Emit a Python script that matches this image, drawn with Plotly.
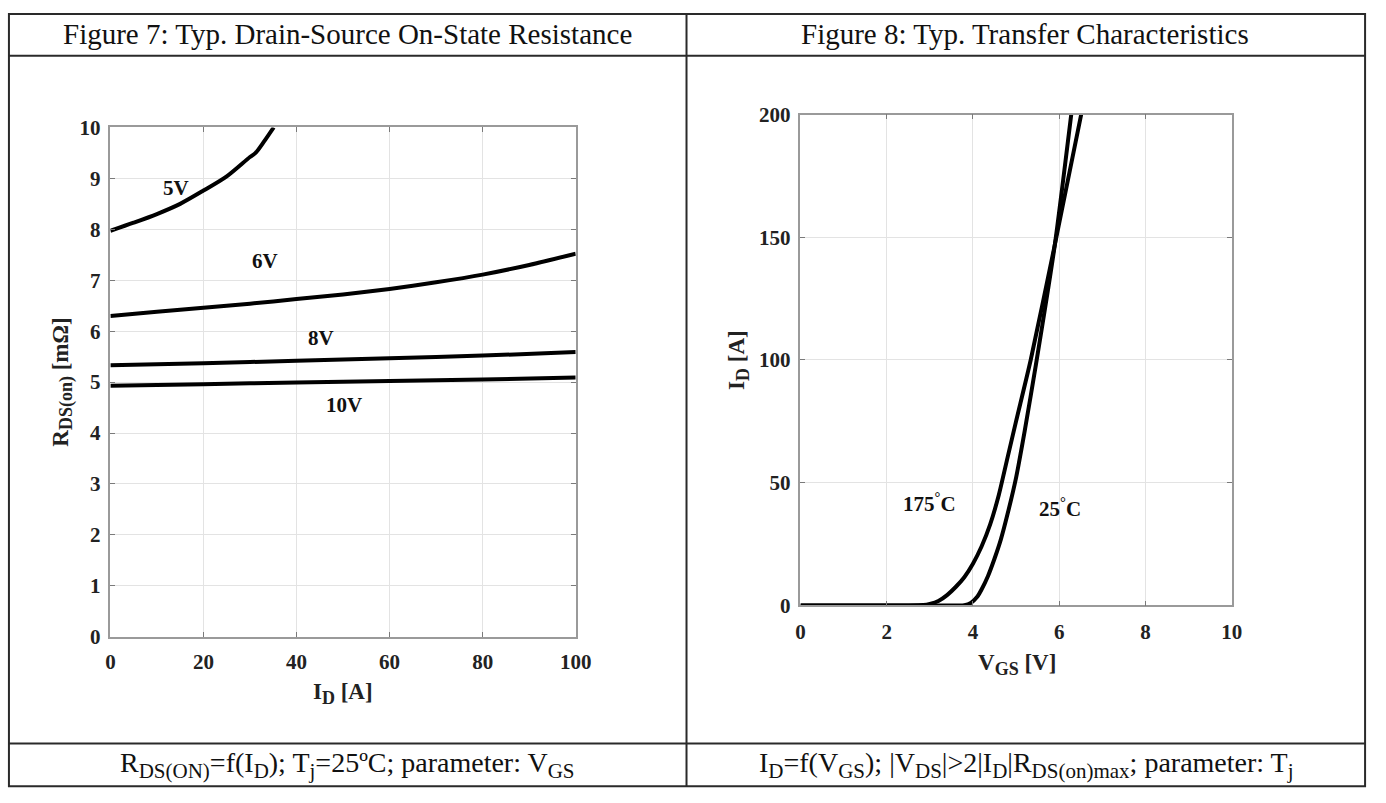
import plotly.graph_objects as go

# ---------------- data ----------------
# Figure 7: R_DS(on) vs I_D for several gate voltages
id_5v = [0, 5, 10, 15, 20, 25, 30, 31.2, 33, 35.1]
r_5v = [7.97, 8.13, 8.30, 8.50, 8.76, 9.04, 9.42, 9.50, 9.72, 10.0]

id_6v = [0, 10, 20, 30, 40, 50, 60, 70, 80, 90, 100]
r_6v = [6.30, 6.38, 6.46, 6.54, 6.63, 6.72, 6.83, 6.96, 7.11, 7.30, 7.52]

id_8v = [0, 20, 40, 60, 80, 100]
r_8v = [5.33, 5.37, 5.42, 5.47, 5.52, 5.59]

id_10v = [0, 20, 40, 60, 80, 100]
r_10v = [4.93, 4.96, 4.99, 5.02, 5.05, 5.09]

vgs_labels = ["5V", "6V", "8V", "10V"]
vgs_label_x = [14.0, 33.3, 45.3, 50.2]
vgs_label_y = [8.81, 7.37, 5.87, 4.55]

# Figure 8: I_D vs V_GS at two junction temperatures
vgs_25 = [0, 3.0, 3.8, 3.95, 4.1, 4.2, 4.35, 4.5, 4.65, 4.8, 5.0, 5.2, 5.46, 5.9, 6.28]
id_25 = [0, 0, 0.1, 1.0, 3.5, 6.5, 12, 19, 27, 37, 52, 71, 98, 147, 200]

vgs_175 = [0, 2.5, 2.85, 3.0, 3.2, 3.4, 3.6, 3.8, 4.0, 4.2, 4.4, 4.6, 4.8, 5.0, 5.34, 5.9, 6.51]
id_175 = [0, 0, 0.15, 0.6, 1.8, 4.2, 7.5, 11.5, 17, 24, 33, 45, 60, 75, 100, 147, 200]

temp_labels = ["175<sup>°</sup>C", "25<sup>°</sup>C"]
temp_label_x = [3.0, 6.03]
temp_label_y = [42, 40]

x1_ticks = [0, 20, 40, 60, 80, 100]
y1_ticks = list(range(0, 11))
x2_ticks = [0, 2, 4, 6, 8, 10]
y2_ticks = [0, 50, 100, 150, 200]

# ---------------- page geometry (pixels) ----------------
W, H = 1386, 803


def px(x):
    return x / W


def py(y):
    return 1 - y / H


SERIF = "Liberation Serif, Times New Roman, serif"
BLACK = "#000000"

fig = go.Figure()

curve_style = dict(color=BLACK, width=4)
for xs, ys in [(id_5v, r_5v), (id_6v, r_6v), (id_8v, r_8v), (id_10v, r_10v)]:
    fig.add_trace(go.Scatter(x=xs, y=ys, mode="lines", xaxis="x", yaxis="y",
                             line=dict(shape="spline", smoothing=0.8, **curve_style),
                             cliponaxis=False, showlegend=False, hoverinfo="skip"))

for xs, ys in [(vgs_175, id_175), (vgs_25, id_25)]:
    fig.add_trace(go.Scatter(x=xs, y=ys, mode="lines", xaxis="x2", yaxis="y2",
                             line=dict(shape="spline", smoothing=0.6, **curve_style),
                             cliponaxis=False, showlegend=False, hoverinfo="skip"))

axis_common = dict(
    showgrid=True, gridcolor="#e3e3e3", gridwidth=1,
    showline=True, linecolor="#9a9a9a", linewidth=1.5, mirror="ticks",
    ticks="inside", ticklen=5, tickcolor="#7a7a7a",
    zeroline=False, fixedrange=True,
    tickfont=dict(family=SERIF, size=21, color="#222222", weight="bold"),
)

fig.update_layout(
    width=W, height=H,
    margin=dict(l=0, r=0, t=0, b=0),
    paper_bgcolor="white", plot_bgcolor="white",
    xaxis=dict(domain=[px(107), px(579.5)], range=[0, 100], tickvals=x1_ticks,
               anchor="y", ticklabelstandoff=5, **axis_common),
    yaxis=dict(domain=[py(644), py(119)], range=[0, 10], tickvals=y1_ticks,
               anchor="x", ticklabelstandoff=4, **axis_common),
    xaxis2=dict(domain=[px(807.7), px(1245.5)], range=[0, 10], tickvals=x2_ticks,
                anchor="y2", ticklabelstandoff=7, **axis_common),
    yaxis2=dict(domain=[py(611.7), py(105.7)], range=[0, 200], tickvals=y2_ticks,
                anchor="x2", ticklabelstandoff=4, **axis_common),
)

annotations = []


def paper_text(text, x, y, font, angle=0):
    return dict(text=text, x=px(x), y=py(y), xref="paper", yref="paper",
                xanchor="center", yanchor="middle", textangle=angle,
                showarrow=False, font=font)


def sub(text, size):
    return f"<sub><span style='font-size:{size}px'>{text}</span></sub>"


# curve labels
label_font = dict(family=SERIF, size=21, color="#111111", weight="bold")
for t, x, y in zip(vgs_labels, vgs_label_x, vgs_label_y):
    annotations.append(dict(text=t, x=x, y=y, xref="x", yref="y", xanchor="center",
                            yanchor="middle", showarrow=False, font=label_font))
for t, x, y in zip(temp_labels, temp_label_x, temp_label_y):
    annotations.append(dict(text=t, x=x, y=y, xref="x2", yref="y2", xanchor="center",
                            yanchor="middle", showarrow=False, font=label_font))

# axis titles
title_font = dict(family=SERIF, size=23, color="#222222", weight="bold")
annotations += [
    paper_text("R" + sub("DS(on)", 18) + " [mΩ]", 58, 382, title_font, -90),
    paper_text("I" + sub("D", 18) + " [A]", 343, 703, title_font),
    paper_text("I" + sub("D", 18) + " [A]", 745, 359, title_font, -90),
    paper_text("V" + sub("GS", 18) + " [V]", 1028, 673, title_font),
]

# table header and footer texts
head_font = dict(family=SERIF, size=29, color="#111111")
foot_font = dict(family=SERIF, size=28, color="#111111")
FS = 21
annotations += [
    paper_text("Figure 7: Typ. Drain-Source On-State Resistance", 348, 23, head_font),
    paper_text("Figure 8: Typ. Transfer Characteristics", 1036, 23, head_font),
    paper_text("R" + sub("DS(ON)", FS) + "=f(I" + sub("D", FS) + "); T" + sub("j", FS)
               + "=25ºC; parameter: V" + sub("GS", FS), 348, 776, foot_font),
    paper_text("I" + sub("D", FS) + "=f(V" + sub("GS", FS) + "); |V" + sub("DS", FS) + "|>2|I"
               + sub("D", FS) + "|R" + sub("DS(on)max", FS) + "; parameter: T" + sub("j", FS),
               1037, 776, foot_font),
]
fig.update_layout(annotations=annotations)

# table grid lines
border = dict(color="#2a2a2a", width=2)
shapes = [
    dict(type="rect", x0=px(4), x1=px(1381), y0=py(798), y1=py(2), xref="paper", yref="paper", line=border),
    dict(type="line", x0=px(692), x1=px(692), y0=py(798), y1=py(2), xref="paper", yref="paper", line=border),
    dict(type="line", x0=px(4), x1=px(1381), y0=py(45), y1=py(45), xref="paper", yref="paper", line=border),
    dict(type="line", x0=px(4), x1=px(1381), y0=py(754), y1=py(754), xref="paper", yref="paper", line=border),
]
fig.update_layout(shapes=shapes)

fig.write_html("out.html", config={"displayModeBar": False})
